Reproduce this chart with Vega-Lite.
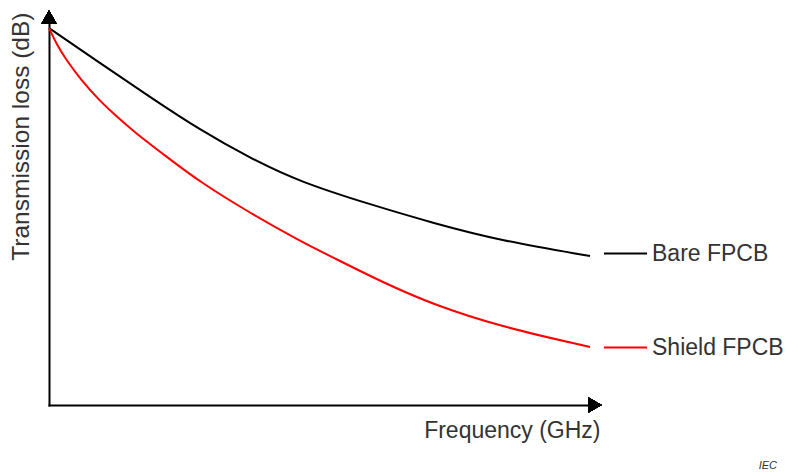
{
  "$schema": "https://vega.github.io/schema/vega-lite/v6.json",
  "autosize": {"type": "none"},
  "width": 546,
  "height": 388,
  "padding": {"left": 49, "top": 17, "right": 192, "bottom": 70},
  "background": "white",
  "config": {"view": {"stroke": null}},
  "title": {"text": "IEC", "orient": "bottom", "anchor": "end", "frame": "group", "fontSize": 11, "fontStyle": "italic", "fontWeight": "normal", "font": "Liberation Sans", "color": "#333333", "dx": 182, "offset": 18},
  "data": {"values": [
    {"series": "Bare FPCB", "f": 0, "loss": 377},
    {"series": "Bare FPCB", "f": 51, "loss": 342},
    {"series": "Bare FPCB", "f": 101, "loss": 308},
    {"series": "Bare FPCB", "f": 151, "loss": 275},
    {"series": "Bare FPCB", "f": 201, "loss": 247},
    {"series": "Bare FPCB", "f": 251, "loss": 223},
    {"series": "Bare FPCB", "f": 323, "loss": 200},
    {"series": "Bare FPCB", "f": 384, "loss": 182},
    {"series": "Bare FPCB", "f": 451, "loss": 164.5},
    {"series": "Bare FPCB", "f": 541, "loss": 149},
    {"series": "Shield FPCB", "f": 0, "loss": 377},
    {"series": "Shield FPCB", "f": 8, "loss": 360},
    {"series": "Shield FPCB", "f": 16, "loss": 347},
    {"series": "Shield FPCB", "f": 32, "loss": 325},
    {"series": "Shield FPCB", "f": 51, "loss": 304},
    {"series": "Shield FPCB", "f": 66, "loss": 290},
    {"series": "Shield FPCB", "f": 84, "loss": 274},
    {"series": "Shield FPCB", "f": 118, "loss": 248},
    {"series": "Shield FPCB", "f": 151, "loss": 223},
    {"series": "Shield FPCB", "f": 201, "loss": 192},
    {"series": "Shield FPCB", "f": 251, "loss": 164},
    {"series": "Shield FPCB", "f": 284, "loss": 147.5},
    {"series": "Shield FPCB", "f": 334, "loss": 122.5},
    {"series": "Shield FPCB", "f": 384, "loss": 100.5},
    {"series": "Shield FPCB", "f": 451, "loss": 78.5},
    {"series": "Shield FPCB", "f": 541, "loss": 58}
  ]},
  "layer": [
    {
      "mark": {"type": "line", "interpolate": "basis", "strokeWidth": 2},
      "encoding": {
        "x": {"field": "f", "type": "quantitative", "scale": {"domain": [0, 546], "nice": false, "zero": false},
          "axis": {"title": "Frequency (GHz)", "ticks": false, "labels": false, "grid": false, "domainColor": "black", "domainWidth": 2, "domainCap": "square", "titleAnchor": "end", "titleAlign": "right", "titleX": 551, "titleFont": "Liberation Sans", "titleFontSize": 23, "titleFontWeight": "normal", "titleColor": "#333333", "titlePadding": 14}},
        "y": {"field": "loss", "type": "quantitative", "scale": {"domain": [0, 388], "nice": false, "zero": false},
          "axis": {"title": "Transmission loss (dB)", "ticks": false, "labels": false, "grid": false, "domainColor": "black", "domainWidth": 2, "domainCap": "square", "titleAnchor": "end", "titleAlign": "right", "titleY": -5, "titleFont": "Liberation Sans", "titleFontSize": 24.5, "titleFontWeight": "normal", "titleColor": "#333333", "titlePadding": 16}},
        "color": {"field": "series", "type": "nominal", "scale": {"domain": ["Bare FPCB", "Shield FPCB"], "range": ["#000000", "#ff0000"]},
          "legend": {"title": null, "orient": "none", "legendX": 554, "legendY": 214, "symbolType": "stroke", "symbolSize": 1849, "symbolStrokeWidth": 2, "labelFont": "Liberation Sans", "labelFontSize": 23, "labelColor": "#333333", "labelOffset": 4, "rowPadding": 59}}
      }
    },
    {
      "mark": {"type": "point", "shape": "triangle-up", "filled": true, "size": 225, "color": "black", "opacity": 1, "strokeWidth": 0},
      "encoding": {"x": {"datum": 0}, "y": {"datum": 388}}
    },
    {
      "mark": {"type": "point", "shape": "triangle-right", "filled": true, "size": 225, "color": "black", "opacity": 1, "strokeWidth": 0},
      "encoding": {"x": {"datum": 546}, "y": {"datum": 0}}
    }
  ]
}
